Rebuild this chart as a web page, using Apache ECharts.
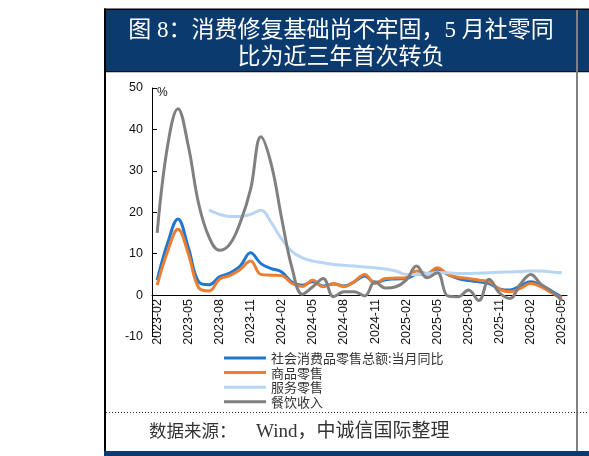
<!DOCTYPE html>
<html>
<head>
<meta charset="utf-8">
<script src="https://cdn.jsdelivr.net/npm/echarts@6/dist/echarts.min.js"></script>
<style>
html,body{margin:0;padding:0;background:#fff;}
#chart{width:589px;height:456px;}
</style>
</head>
<body>
<div id="chart"></div>
<script>
const categories = [
  '2023-02','2023-03','2023-04','2023-05','2023-06','2023-07','2023-08','2023-09','2023-10','2023-11','2023-12',
  '2024-01','2024-02','2024-03','2024-04','2024-05','2024-06','2024-07','2024-08','2024-09','2024-10','2024-11','2024-12',
  '2025-01','2025-02','2025-03','2025-04','2025-05','2025-06','2025-07','2025-08','2025-09','2025-10','2025-11','2025-12',
  '2026-01','2026-02','2026-03','2026-04','2026-05'
];
const seriesNames = ['社会消费品零售总额:当月同比','商品零售','服务零售','餐饮收入'];
const retailTotal = [3.6,12.5,18.4,11.5,3.2,2.5,4.4,5.3,7.0,10.2,7.6,6.4,5.6,3.1,2.4,3.2,2.2,2.7,2.2,3.2,4.6,3.0,3.7,3.9,4.0,5.0,5.1,6.3,5.0,4.0,3.5,3.2,2.8,1.5,1.2,2.2,3.2,2.4,1.0,-0.5];
const goodsRetail = [2.4,10.5,15.9,10.0,1.8,1.0,3.8,4.7,6.2,8.2,5.0,4.8,4.7,2.8,2.1,3.6,2.0,2.8,2.0,3.3,5.0,2.8,4.0,4.1,4.2,5.8,5.2,6.6,5.0,4.3,4.0,3.6,3.2,1.4,0.8,1.6,2.8,2.0,0.6,-0.8];
const serviceRetail = [null,null,null,null,null,20.5,19.5,19.0,19.0,19.5,20.5,17.5,13.5,10.5,9.0,8.2,7.8,7.4,7.2,7.0,6.8,6.6,6.3,5.8,5.0,5.0,5.2,5.4,5.4,5.2,5.2,5.3,5.4,5.5,5.6,5.7,5.8,5.8,5.6,5.4];
const cateringIncome = [15,36,45,36,22,14,10.8,12.3,17.5,25.5,38.2,31.5,18.5,6.5,0.2,2.0,4.0,-0.4,0.8,0.8,-0.2,3.2,1.7,2.0,3.6,7.0,4.2,5.4,-0.2,-0.4,1.2,-1.3,3.8,0.5,-0.8,2.6,5.0,2.6,1.0,-1.3];
const seriesData = [retailTotal, goodsRetail, serviceRetail, cateringIncome];
const seriesColors = ['#1e78d2','#ed7d31','#b8d6f3','#808080'];
const yMin = -10, yMax = 50, yStep = 10;

const navy = '#0b3a6f';
const cjkSerifMix = '"Liberation Serif", "Noto Sans CJK SC", serif';
const latinSans = '"Liberation Sans", Arial, sans-serif';

const chart = echarts.init(document.getElementById('chart'), null, {renderer: 'canvas'});
chart.setOption({
  animation: false,
  backgroundColor: '#fff',
  grid: [
    {left: 152, right: 22, top: 88, bottom: 119.5, containLabel: false},
    // label-only grid whose bottom edge sits on the zero line of the main grid
    {left: 152, right: 22, top: 88, bottom: 161, containLabel: false}
  ],
  xAxis: [
    {
      type: 'category', gridIndex: 0,
      data: categories,
      boundaryGap: true,
      axisLine: {onZero: true, lineStyle: {color: '#000', width: 1}},
      axisTick: {inside: true, length: 5, interval: 2, lineStyle: {color: '#000'}},
      axisLabel: {show: false},
      splitLine: {show: false}
    },
    {
      type: 'category', gridIndex: 1,
      data: categories,
      boundaryGap: true,
      axisLine: {show: false},
      axisTick: {show: false},
      axisLabel: {interval: 2, rotate: 90, margin: 4, fontSize: 12.5, color: '#111', fontFamily: latinSans},
      splitLine: {show: false}
    }
  ],
  yAxis: [
    {
      type: 'value', gridIndex: 0,
      min: yMin, max: yMax, interval: yStep,
      axisLine: {show: true, lineStyle: {color: '#000', width: 1}},
      axisTick: {show: true, inside: true, length: 5, lineStyle: {color: '#000'}},
      axisLabel: {margin: 9, fontSize: 12.5, color: '#111', fontFamily: latinSans},
      splitLine: {show: false}
    },
    {type: 'value', gridIndex: 1, show: false, min: 0, max: 1}
  ],
  legend: {
    orient: 'vertical',
    left: 224, top: 351,
    padding: 0,
    itemWidth: 42, itemHeight: 3, itemGap: 0.6,
    icon: 'rect',
    textStyle: {fontSize: 13, lineHeight: 14, color: '#333', fontFamily: '"Noto Sans CJK SC", sans-serif'},
    data: seriesNames
  },
  series: seriesNames.map((name, k) => ({
    name: name,
    type: 'line',
    xAxisIndex: 0, yAxisIndex: 0,
    data: seriesData[k],
    smooth: 0.4,
    showSymbol: false,
    symbol: 'none',
    connectNulls: false,
    color: seriesColors[k],
    lineStyle: {width: 3, color: seriesColors[k]}
  })),
  graphic: [
    {type: 'rect', shape: {x: 104, y: 8.5, width: 485, height: 1.5}, style: {fill: '#000'}, silent: true},
    {type: 'rect', shape: {x: 105, y: 10, width: 484, height: 61}, style: {fill: navy}, silent: true},
    {type: 'rect', shape: {x: 104, y: 71, width: 485, height: 1.2}, style: {fill: '#111'}, silent: true},
    {type: 'rect', shape: {x: 576, y: 10, width: 2, height: 441}, style: {fill: '#808080'}, silent: true},
    {type: 'rect', shape: {x: 104, y: 8.5, width: 2, height: 447.5}, style: {fill: '#000'}, silent: true},
    {type: 'rect', shape: {x: 104, y: 451, width: 485, height: 5}, style: {fill: navy}, silent: true},
    {type: 'line', shape: {x1: 106, y1: 412.5, x2: 589, y2: 412.5}, style: {stroke: '#333', lineWidth: 1, lineDash: [1, 2]}, silent: true},
    {type: 'text', style: {text: '图 8：消费修复基础尚不牢固，5 月社零同', x: 341, y: 31, textAlign: 'center', textVerticalAlign: 'middle', fill: '#fff', font: '23px ' + cjkSerifMix}, silent: true},
    {type: 'text', style: {text: '比为近三年首次转负', x: 341, y: 58, textAlign: 'center', textVerticalAlign: 'middle', fill: '#fff', font: '23px ' + cjkSerifMix}, silent: true},
    {type: 'text', style: {text: '%', x: 157, y: 93, textAlign: 'left', textVerticalAlign: 'middle', fill: '#111', font: '12px ' + latinSans}, silent: true},
    {type: 'text', style: {text: '数据来源：', x: 149, y: 432, textAlign: 'left', textVerticalAlign: 'middle', fill: '#333', font: '17.5px ' + cjkSerifMix}, silent: true},
    {type: 'text', style: {text: 'Wind，中诚信国际整理', x: 256, y: 432, textAlign: 'left', textVerticalAlign: 'middle', fill: '#333', font: '19px ' + cjkSerifMix}, silent: true}
  ]
});
</script>
</body>
</html>
